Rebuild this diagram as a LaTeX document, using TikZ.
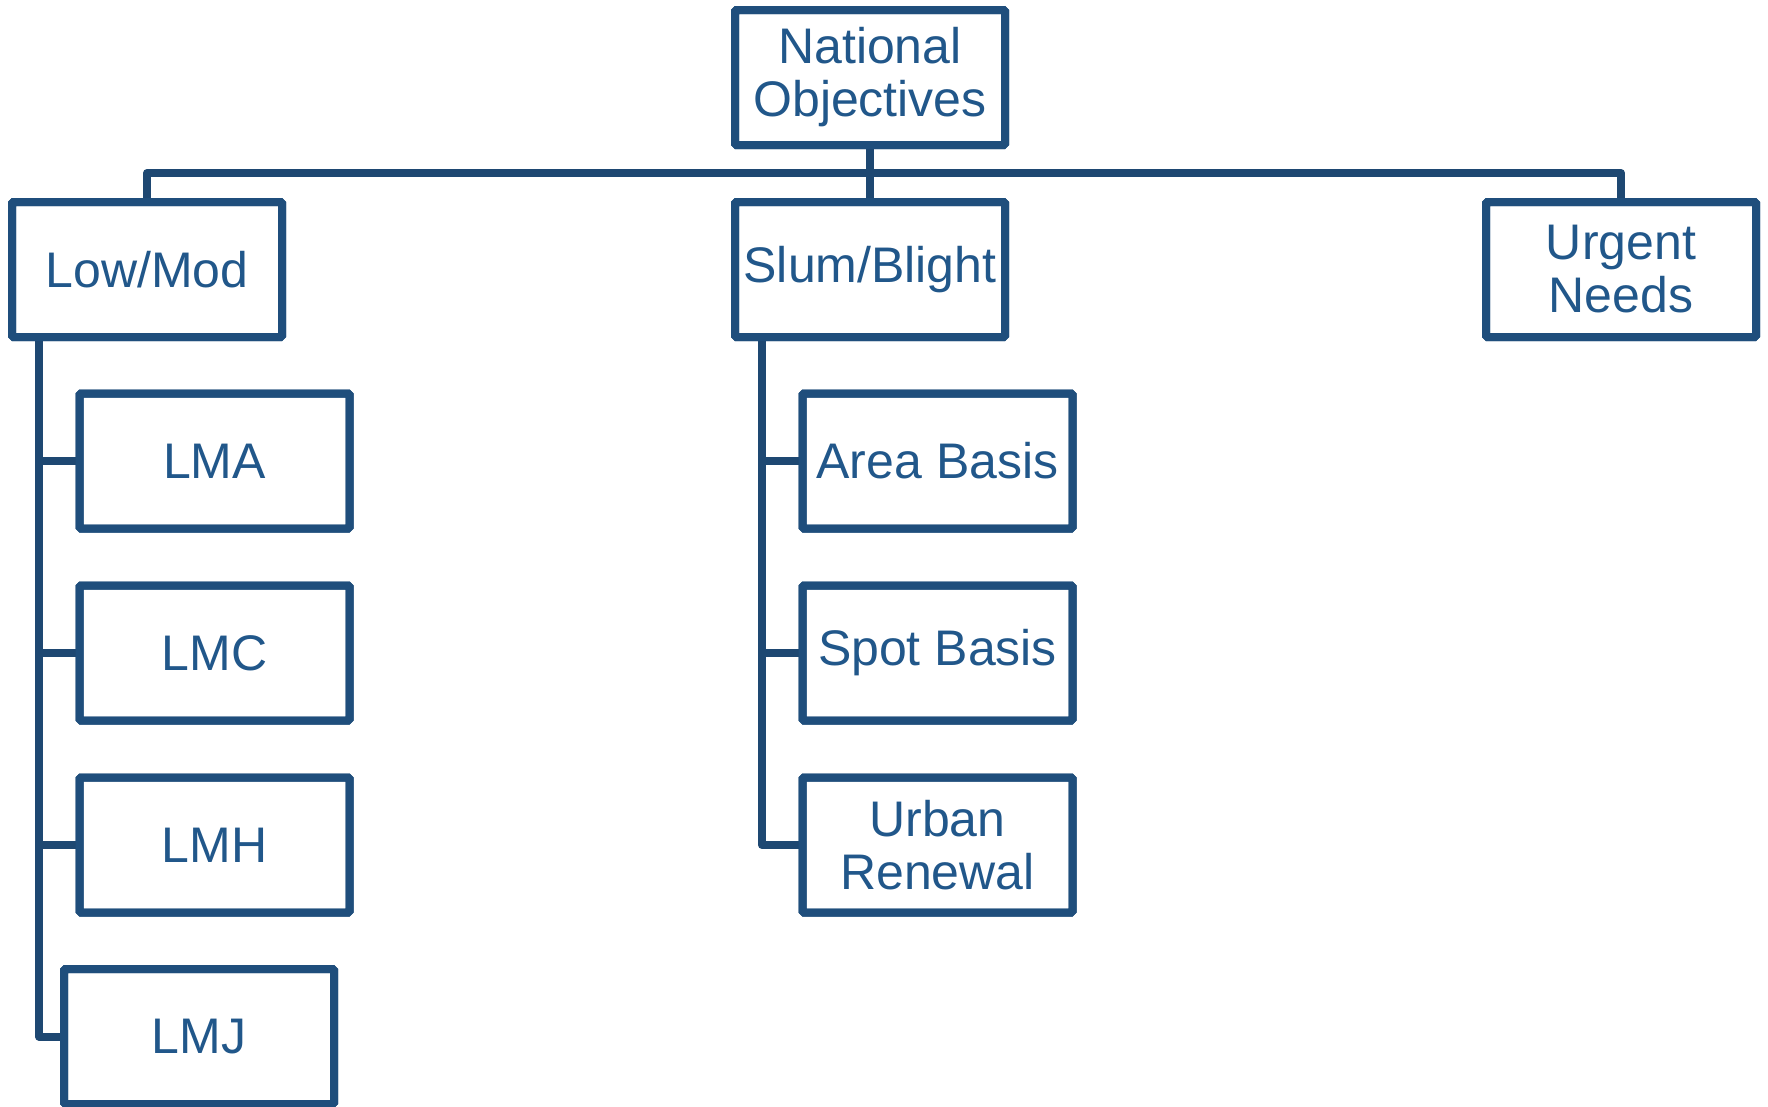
\documentclass[tikz,border=0pt]{standalone}
\usepackage{fontspec}
\setmainfont{Liberation Sans}
\definecolor{boxblue}{RGB}{31,78,124}
\definecolor{lineblue}{RGB}{30,72,114}
\definecolor{textblue}{RGB}{33,87,138}
\begin{document}
\begin{tikzpicture}[x=1pt,y=-1pt,
  obox/.style={draw=boxblue, line width=8pt, rounded corners=1.5pt, rectangle,
    minimum width=270pt, minimum height=135pt, inner sep=0pt, outer sep=0pt, align=center,
    text=textblue, font=\fontsize{50}{53}\selectfont},
  conn/.style={draw=lineblue, line width=8pt, line join=round}]
\useasboundingbox (0,0) rectangle (1768,1106);
\fill[white] (0,0) rectangle (1768,1106);
\node[obox] (nat) at (870,77.5) {National\\Objectives};
\node[obox] (low) at (147,269.5) {Low/Mod};
\node[obox] (slum) at (870,269.5) {Slum/Blight};
\node[obox] (urg) at (1621,269.5) {Urgent\\Needs};
\node[obox] (lma) at (214.5,461) {LMA};
\node[obox] (lmc) at (214.5,653) {LMC};
\node[obox] (lmh) at (214.5,845) {LMH};
\node[obox] (lmj) at (199,1036.5) {LMJ};
\node[obox] (area) at (937.5,461) {Area Basis};
\node[obox] (spot) at (937.5,653) {Spot Basis};
\node[obox] (urban) at (937.5,845) {Urban\\Renewal};
\coordinate (bar) at (870,173);
\coordinate (lt) at (39,337);
\coordinate (st) at (762,337);
% top bar
\draw[conn] (nat.south) -- (slum.north);
\draw[conn] (low.north) |- (bar) -| (urg.north);
% low/mod trunk
\draw[conn] (lt) |- (lmj.west);
\draw[conn] (lt |- lma.west) -- (lma.west);
\draw[conn] (lt |- lmc.west) -- (lmc.west);
\draw[conn] (lt |- lmh.west) -- (lmh.west);
% slum trunk
\draw[conn] (st) |- (urban.west);
\draw[conn] (st |- area.west) -- (area.west);
\draw[conn] (st |- spot.west) -- (spot.west);
% redraw box borders over connector ends
\foreach \n in {nat,low,slum,urg,lma,lmc,lmh,lmj,area,spot,urban}{
  \draw[draw=boxblue, line width=8pt, rounded corners=1.5pt] (\n.north west) rectangle (\n.south east);}
\end{tikzpicture}
\end{document}
